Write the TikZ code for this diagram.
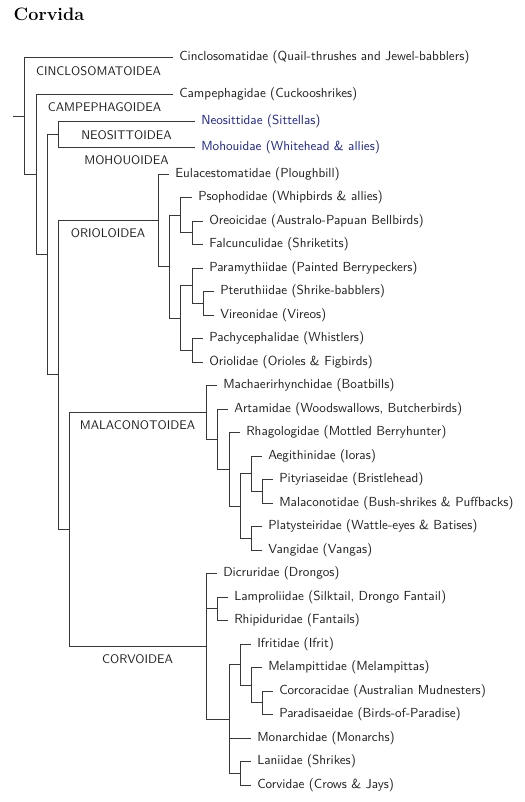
\documentclass[tikz,border=0pt]{standalone}
\usepackage{tikz}
\usetikzlibrary{calc,positioning}
\usepackage{xcolor}
\definecolor{sittablue}{RGB}{28,36,138}

\tikzset{
    branch/.style={draw=black!78, line width=0.65pt},
    taxon/.style={anchor=west, inner xsep=4.8pt, inner ysep=1pt, font=\sffamily\fontsize{10.5}{12}\selectfont, text=black!88},
    superfam/.style={below=3.2pt, inner sep=3.33pt, font=\sffamily, text=black!88}
}

\begin{document}
\begin{tikzpicture}[x=0.8pt, y=-0.8pt]
            \useasboundingbox (0,0) rectangle (525,802);
            \node[anchor=base west, inner sep=0pt, font=\Large\bfseries] (title) at (13.5,20) {Corvida};

            % Leaves: name / line end / row / text
            \foreach \n/\x/\y/\t in {
                cinc/173/57.5/{Cinclosomatidae (Quail-thrushes and Jewel-babblers)},
                camp/173/94/{Campephagidae (Cuckooshrikes)},
                eula/169/174/{Eulacestomatidae (Ploughbill)},
                psop/192/197.5/{Psophodidae (Whipbirds \& allies)},
                oreo/203/221/{Oreoicidae (Australo-Papuan Bellbirds)},
                falc/203/244.5/{Falcunculidae (Shriketits)},
                para/203/268/{Paramythiidae (Painted Berrypeckers)},
                pter/214/291.5/{Pteruthiidae (Shrike-babblers)},
                vire/214/315/{Vireonidae (Vireos)},
                pach/203/338.5/{Pachycephalidae (Whistlers)},
                orio/203/362/{Oriolidae (Orioles \& Figbirds)},
                mach/217/385.5/{Machaerirhynchidae (Boatbills)},
                arta/228/409/{Artamidae (Woodswallows, Butcherbirds)},
                rhag/240/432.5/{Rhagologidae (Mottled Berryhunter)},
                aegi/262/456/{Aegithinidae (Ioras)},
                pity/273/479.5/{Pityriaseidae (Bristlehead)},
                mala/273/503/{Malaconotidae (Bush-shrikes \& Puffbacks)},
                plat/262/526.5/{Platysteiridae (Wattle-eyes \& Batises)},
                vang/262/550/{Vangidae (Vangas)},
                dicr/217/573.5/{Dicruridae (Drongos)},
                lamp/228/597/{Lamproliidae (Silktail, Drongo Fantail)},
                rhip/228/620.5/{Rhipiduridae (Fantails)},
                ifri/251/644/{Ifritidae (Ifrit)},
                mela/262/667.5/{Melampittidae (Melampittas)},
                corc/273/691/{Corcoracidae (Australian Mudnesters)},
                prds/273/714.5/{Paradisaeidae (Birds-of-Paradise)},
                mona/251/738/{Monarchidae (Monarchs)},
                lani/251/761.5/{Laniidae (Shrikes)},
                corv/251/785/{Corvidae (Crows \& Jays)}} {
                \node[taxon] (\n) at (\x,\y) {\t};
            }
            \node[taxon, text=sittablue] (neos) at (195,121.5) {Neosittidae (Sittellas)};
            \node[taxon, text=sittablue] (moho) at (195,147) {Mohouidae (Whitehead \& allies)};

            % Inner nodes of the tree
            \coordinate (stem) at (13,115.9);
            \coordinate (root) at (24,115.9);
            \coordinate (c8) at (36,174.25);
            \coordinate (c7) at (47,254.5);
            \coordinate (neo) at (58,134.25);
            \coordinate (c6) at (58,374.75);
            \coordinate (c5) at (69,529.25);
            % Orioloidea
            \coordinate (oriolo) at (158,220.25);
            \coordinate (o2) at (169,266.5);
            \coordinate (psoN) at (180,215.1);
            \coordinate (oreN) at (192,232.75);
            \coordinate (o3) at (180,317.9);
            \coordinate (parN) at (192,285.6);
            \coordinate (pteN) at (203,303.25);
            \coordinate (pacN) at (192,350.25);
            % Malaconotoidea
            \coordinate (malaco) at (206,412.3);
            \coordinate (m2) at (217,439.1);
            \coordinate (m3) at (229,469.2);
            \coordinate (m4) at (240,505.9);
            \coordinate (aegN) at (251,473.6);
            \coordinate (pitN) at (262,491.25);
            \coordinate (plaN) at (251,538.25);
            % Corvoidea
            \coordinate (corvo) at (206,646.2);
            \coordinate (lamN) at (217,608.75);
            \coordinate (c3) at (229,718.9);
            \coordinate (ifrN) at (240,664.6);
            \coordinate (melN) at (251,685.1);
            \coordinate (corN) at (262,702.75);
            \coordinate (lanN) at (240,773.25);

            % Branches with the superfamily names
            \draw[branch] (stem) -- (root);
            \draw[branch] (root) |- (cinc.west) node[superfam, pos=0.75] {CINCLOSOMATOIDEA};
            \draw[branch] (root) |- (c8);
            \draw[branch] (c8) |- (camp.west) node[superfam, pos=0.75] {CAMPEPHAGOIDEA};
            \draw[branch] (c8) |- (c7);
            \draw[branch] (c7) |- (neo);
            \draw[branch] (neo) |- (neos.west) node[superfam, pos=0.75] {NEOSITTOIDEA};
            \draw[branch] (neo) |- (moho.west) node[superfam, pos=0.75] {MOHOUOIDEA};
            \draw[branch] (c7) |- (c6);
            \draw[branch] (c6) |- (oriolo) node[superfam, pos=0.75] {ORIOLOIDEA};
            \draw[branch] (c6) |- (c5);
            \draw[branch] (c5) |- (malaco) node[superfam, pos=0.75] {MALACONOTOIDEA};
            \draw[branch] (c5) |- (corvo) node[superfam, pos=0.75] {CORVOIDEA};

            % Remaining branches: parent / child
            \foreach \a/\b in {
                oriolo/eula.west, oriolo/o2, o2/psoN, psoN/psop.west, psoN/oreN,
                oreN/oreo.west, oreN/falc.west, o2/o3, o3/parN, parN/para.west,
                parN/pteN, pteN/pter.west, pteN/vire.west, o3/pacN,
                pacN/pach.west, pacN/orio.west,
                malaco/mach.west, malaco/m2, m2/arta.west, m2/m3, m3/rhag.west,
                m3/m4, m4/aegN, aegN/aegi.west, aegN/pitN, pitN/pity.west,
                pitN/mala.west, m4/plaN, plaN/plat.west, plaN/vang.west,
                corvo/dicr.west, corvo/lamN, lamN/lamp.west, lamN/rhip.west,
                corvo/c3, c3/ifrN, ifrN/ifri.west, ifrN/melN, melN/mela.west,
                melN/corN, corN/corc.west, corN/prds.west, c3/mona.west,
                c3/lanN, lanN/lani.west, lanN/corv.west} {
                \draw[branch] (\a) |- (\b);
            }
        \end{tikzpicture}
\end{document}
